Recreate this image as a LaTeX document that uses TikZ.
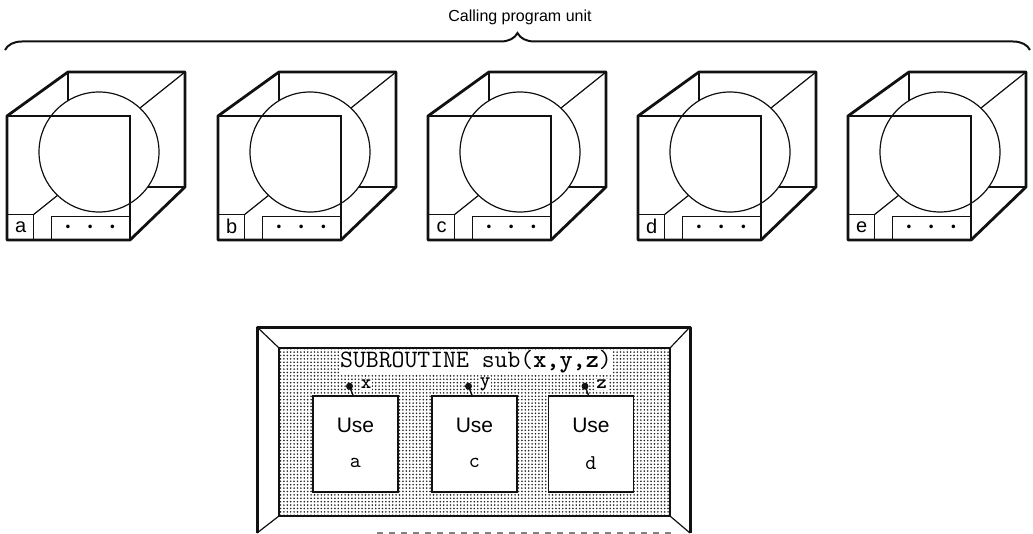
\documentclass[tikz,border=0pt]{standalone}
\usepackage{fontspec}
\setsansfont{Liberation Sans}
\usepackage{tikz}
\usetikzlibrary{positioning,calc,decorations.pathreplacing,patterns.meta}
\definecolor{Ink}{HTML}{111111}
\tikzdeclarepattern{
  name=stipple,
  type=uncolored,
  bottom left={(-.1pt,-.1pt)},
  top right={(1.8pt,1.8pt)},
  tile size={(1.7pt,1.7pt)},
  code={\fill (.85pt,.85pt) circle (.45pt);}
}

\begin{document}
\begin{tikzpicture}[
		x=0.5pt,y=-0.5pt,
		edge/.style={line width=0.6pt,Ink},
		rim/.style={line width=1.4pt,Ink,line join=round},
		ball/.style={line width=0.6pt,Ink,fill=white},
		tagbox/.style={draw=Ink,line width=0.7pt,minimum width=13pt,minimum height=12.5pt,inner sep=0pt,font=\sffamily\fontsize{10}{10}\selectfont},
		slotbox/.style={draw=Ink,line width=0.7pt,minimum width=39pt,minimum height=11.5pt,inner sep=0pt,font=\fontsize{6}{6}\selectfont},
		usebox/.style={draw=Ink,line width=0.8pt,fill=white,minimum width=42.5pt,minimum height=48pt,inner sep=0pt},
		usetxt/.style={font=\sffamily\fontsize{10.5}{10.5}\selectfont},
		argtxt/.style={font=\ttfamily\fontsize{10.5}{10.5}\selectfont},
		pin/.style={circle,fill=Ink,inner sep=0pt,minimum size=3.5pt},
		pintxt/.style={font=\ttfamily\bfseries\fontsize{10}{10}\selectfont,fill=white,inner sep=0.5pt},
		link/.style={line width=0.7pt,Ink}
	]
	\useasboundingbox (0,0) rectangle (1033,534);
	\coordinate (brace-l) at (5,50);
	\coordinate (brace-r) at (1030,50);
	\draw[decorate,decoration={brace,amplitude=8.5pt},line width=1pt,Ink] (brace-l) -- (brace-r);
	\node[font=\sffamily\fontsize{8}{8}\selectfont] (caller) at (520,17) {Calling program unit};
	\foreach \dx/\nm in {0/a,211/b,421/c,631/d,841/e}{
		\begin{scope}[shift={(\dx,0)}]
			\draw[edge] (68,72) rectangle (185,187);
			\draw[edge] (130,116) -- (185,72);
			\draw[edge] (33,215) -- (68,187);
			\draw[ball] (99,152) circle[radius=30pt];
			\draw[edge] (7,116) -- (130,116) -- (130,240);
			\draw[rim] (7,116) -- (7,240) -- (130,240) -- (185,187) -- (185,72) -- (68,72) -- cycle;
			\node[tagbox,anchor=south west] (tag-\nm) at (7,240) {\nm};
			\node[slotbox,anchor=south east] (slot-\nm) at (130,240) {\textbullet\hspace{5.5pt}\textbullet\hspace{5.5pt}\textbullet};
		\end{scope}
	}
	\draw[line width=1.5pt,Ink,line join=round] (257,533) -- (257,327) -- (690,327) -- (690,533);
	\draw[gray,line width=0.6pt,dashed] (377,533) -- (672,533);
	\draw[line width=1pt,Ink,pattern=stipple,pattern color=black!85] (279,348) rectangle (670,516);
	\draw[edge] (257,327) -- (279,348);
	\draw[edge] (690,327) -- (670,348);
	\draw[edge] (257,533) -- (279,516);
	\draw[edge] (690,533) -- (670,516);
	\node[font=\ttfamily\fontsize{12.5}{12.5}\selectfont,fill=white,inner sep=0.5pt] (head) at (476,362) {SUBROUTINE sub(\textbf{x,y,z})};
	\foreach \bx/\nm/\pv in {355.5/a/x,474.5/c/y,591/d/z}{
		\node[usebox] (use-\nm) at (\bx,444) {};
		\node[usetxt] (use-\nm-t) at ($(use-\nm.center)+(0,-19)$) {Use};
		\node[argtxt] (use-\nm-a) at ($(use-\nm.center)+(0,19)$) {\nm};
		\node[pin] (pin-\pv) at ($(use-\nm.north)+(-6,-9)$) {};
		\node[pintxt,right=3pt of pin-\pv,yshift=1pt] (lbl-\pv) {\pv};
		\draw[link] (pin-\pv.center) -- ($(use-\nm.north)+(-2.5,0)$);
	}
\end{tikzpicture}
\end{document}
